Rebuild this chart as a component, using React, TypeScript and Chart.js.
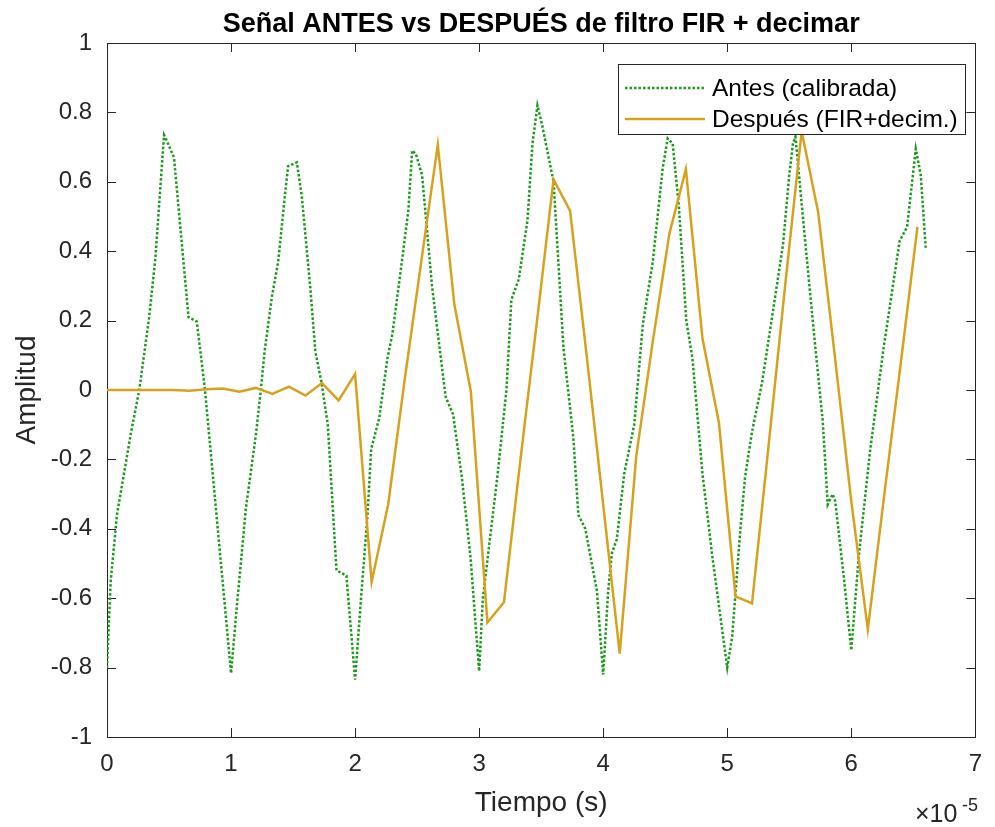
import React, { useEffect, useRef } from "react";
import { Chart, registerables } from "chart.js";

Chart.register(...registerables);

const TITLE = "Señal ANTES vs DESPUÉS de filtro FIR + decimar";
const X_LABEL = "Tiempo (s)";
const Y_LABEL = "Amplitud";
const X_EXP_BASE = "×10";
const X_EXP_POWER = "-5";
const LEGEND_LABELS = ["Antes (calibrada)", "Después (FIR+decim.)"];

const X_TICKS = [0, 1, 2, 3, 4, 5, 6, 7];
const Y_TICKS = [-1, -0.8, -0.6, -0.4, -0.2, 0, 0.2, 0.4, 0.6, 0.8, 1];

// Antes (calibrada): time in units of 1e-5 s
const antesT = [
  0.0, 0.03, 0.08, 0.19, 0.26, 0.34, 0.39, 0.46, 0.48, 0.54, 0.657, 0.724, 0.79, 1.0,
  1.05, 1.12, 1.2, 1.24, 1.27, 1.33, 1.38, 1.44, 1.46, 1.53, 1.57, 1.64, 1.68, 1.73, 1.78, 1.85, 1.93, 2.0,
  2.05, 2.1, 2.13, 2.195, 2.26, 2.3, 2.37, 2.43, 2.46, 2.49, 2.54, 2.62, 2.73, 2.79, 2.86, 2.93, 3.0,
  3.03, 3.07, 3.15, 3.22, 3.26, 3.32, 3.39, 3.43, 3.47, 3.51, 3.6, 3.68, 3.76, 3.8, 3.856, 3.95, 4.0,
  4.04, 4.07, 4.11, 4.17, 4.25, 4.32, 4.4, 4.48, 4.52, 4.56, 4.61, 4.67, 4.72, 4.8, 4.88, 5.0,
  5.04, 5.104, 5.144, 5.2, 5.28, 5.37, 5.45, 5.5, 5.53, 5.55, 5.62, 5.7, 5.77, 5.81, 5.85, 5.87, 5.94, 6.0,
  6.06, 6.15, 6.26, 6.39, 6.45, 6.52, 6.56, 6.6,
];
const antesV = [
  -0.8, -0.55, -0.36, -0.13, 0.0, 0.21, 0.38, 0.735, 0.72, 0.67, 0.21, 0.197, 0.0, -0.816,
  -0.61, -0.34, -0.13, 0.0, 0.11, 0.27, 0.37, 0.58, 0.645, 0.656, 0.56, 0.29, 0.11, 0.02, -0.1, -0.52, -0.535, -0.835,
  -0.59, -0.36, -0.17, -0.08, 0.09, 0.16, 0.35, 0.52, 0.69, 0.68, 0.62, 0.3, -0.02, -0.07, -0.25, -0.48, -0.81,
  -0.6, -0.48, -0.24, 0.0, 0.26, 0.32, 0.49, 0.71, 0.82, 0.76, 0.6, 0.12, -0.14, -0.36, -0.4, -0.58, -0.82,
  -0.58, -0.47, -0.43, -0.24, -0.1, 0.19, 0.37, 0.64, 0.725, 0.71, 0.53, 0.2, 0.09, -0.24, -0.48, -0.8,
  -0.71, -0.41, -0.25, -0.12, 0.02, 0.23, 0.42, 0.62, 0.71, 0.73, 0.46, 0.16, -0.09, -0.33, -0.3, -0.32, -0.54, -0.75,
  -0.48, -0.18, 0.12, 0.43, 0.47, 0.695, 0.62, 0.41,
];

// Después (FIR+decim.): uniform decimated sampling interval (units of 1e-5 s)
const DESPUES_DT = 2 / 15;
const despuesV = [
  0, 0, 0, 0, 0, -0.002, 0.002, 0.004, -0.005, 0.006, -0.011, 0.01, -0.016, 0.02, -0.03, 0.046,
  -0.553, -0.33, 0.03, 0.37, 0.707, 0.247, -0.005, -0.67, -0.612, -0.2, 0.2, 0.607, 0.516, 0.1, -0.33, -0.76,
  -0.19, 0.14, 0.45, 0.636, 0.15, -0.095, -0.595, -0.615, -0.16, 0.3, 0.745, 0.512, 0.1, -0.32, -0.69,
  -0.3, 0.08, 0.47,
];

const COLOR_ANTES = "#1a991a";
const COLOR_DESPUES = "#d6a21e";
const AXIS_COLOR = "#262626";
const FONT = "'Liberation Sans', Arial, Helvetica, sans-serif";

const decorPlugin = {
  id: "decor",
  beforeDatasetsDraw(chart: any) {
    const { ctx, chartArea } = chart;
    const { left, right, top, bottom } = chartArea;
    const xs = chart.scales.x;
    const ys = chart.scales.y;
    ctx.save();
    ctx.strokeStyle = AXIS_COLOR;
    ctx.lineWidth = 1;
    const TL = 9;
    ctx.beginPath();
    X_TICKS.forEach((v) => {
      const px = Math.round(xs.getPixelForValue(v)) + 0.5;
      ctx.moveTo(px, bottom);
      ctx.lineTo(px, bottom - TL);
      ctx.moveTo(px, top);
      ctx.lineTo(px, top + TL);
    });
    Y_TICKS.forEach((v) => {
      const py = Math.round(ys.getPixelForValue(v)) + 0.5;
      ctx.moveTo(left, py);
      ctx.lineTo(left + TL, py);
      ctx.moveTo(right, py);
      ctx.lineTo(right - TL, py);
    });
    ctx.stroke();
    ctx.strokeRect(Math.round(left) + 0.5, Math.round(top) + 0.5, Math.round(right - left), Math.round(bottom - top));
    ctx.restore();
  },
  afterDraw(chart: any) {
    const { ctx, chartArea } = chart;
    const { left, right } = chartArea;
    ctx.save();
    // Title
    ctx.fillStyle = "#000";
    ctx.font = `bold 27px ${FONT}`;
    ctx.textAlign = "center";
    ctx.textBaseline = "alphabetic";
    ctx.fillText(TITLE, (left + right) / 2, 32);
    // X label
    ctx.fillStyle = AXIS_COLOR;
    ctx.font = `28px ${FONT}`;
    ctx.fillText(X_LABEL, (left + right) / 2, 811);
    // Y label
    ctx.save();
    ctx.translate(35, 390);
    ctx.rotate(-Math.PI / 2);
    ctx.fillText(Y_LABEL, 0, 0);
    ctx.restore();
    // Exponent
    ctx.textAlign = "left";
    ctx.font = `25px ${FONT}`;
    ctx.fillText(X_EXP_BASE, 915, 822);
    ctx.font = `18px ${FONT}`;
    ctx.fillText(X_EXP_POWER, 962, 811);

    // Legend
    const bx = 618.5, by = 64.5, bw = 347, bh = 70;
    ctx.fillStyle = "#fff";
    ctx.fillRect(bx, by, bw, bh);
    ctx.strokeStyle = AXIS_COLOR;
    ctx.lineWidth = 1;
    ctx.strokeRect(bx, by, bw, bh);
    const rows = [88, 119];
    ctx.strokeStyle = COLOR_ANTES;
    ctx.lineWidth = 2.5;
    ctx.setLineDash([2.5, 2]);
    ctx.beginPath();
    ctx.moveTo(625, rows[0]);
    ctx.lineTo(705, rows[0]);
    ctx.stroke();
    ctx.setLineDash([]);
    ctx.strokeStyle = COLOR_DESPUES;
    ctx.lineWidth = 2.5;
    ctx.beginPath();
    ctx.moveTo(625, rows[1]);
    ctx.lineTo(705, rows[1]);
    ctx.stroke();
    ctx.fillStyle = "#000";
    ctx.font = `24.5px ${FONT}`;
    ctx.textBaseline = "middle";
    ctx.fillText(LEGEND_LABELS[0], 712, rows[0] + 1);
    ctx.fillText(LEGEND_LABELS[1], 712, rows[1] + 1);
    ctx.restore();
  },
};

export default function App() {
  const ref = useRef<HTMLCanvasElement | null>(null);
  useEffect(() => {
    if (!ref.current) return;
    const antesData = antesT.map((t, i) => ({ x: t, y: antesV[i] }));
    const despuesData = despuesV.map((v, i) => ({ x: i * DESPUES_DT, y: v }));
    const chart = new Chart(ref.current, {
      type: "line",
      data: {
        datasets: [
          {
            label: LEGEND_LABELS[0],
            data: antesData,
            borderColor: COLOR_ANTES,
            borderWidth: 2.5,
            borderDash: [2.5, 2],
            pointRadius: 0,
            tension: 0,
            fill: false,
            order: 1,
          },
          {
            label: LEGEND_LABELS[1],
            data: despuesData,
            borderColor: COLOR_DESPUES,
            borderWidth: 2.5,
            pointRadius: 0,
            tension: 0,
            fill: false,
            order: 0,
          },
        ],
      },
      options: {
        animation: false,
        responsive: false,
        devicePixelRatio: 1,
        layout: { padding: { top: 43, right: 15, left: 0, bottom: 0 } },
        plugins: {
          legend: { display: false },
          tooltip: { enabled: false },
          title: { display: false },
        },
        scales: {
          x: {
            type: "linear",
            min: 0,
            max: 7,
            grid: { display: false, drawTicks: false },
            border: { display: false },
            afterBuildTicks: (s: any) => {
              s.ticks = X_TICKS.map((v) => ({ value: v }));
            },
            afterFit: (s: any) => {
              s.height = 90;
            },
            ticks: {
              padding: 13,
              autoSkip: false,
              maxRotation: 0,
              color: AXIS_COLOR,
              font: { size: 24, family: FONT },
              callback: (v: any) => String(v),
            },
          },
          y: {
            type: "linear",
            min: -1,
            max: 1,
            grid: { display: false, drawTicks: false },
            border: { display: false },
            afterBuildTicks: (s: any) => {
              s.ticks = Y_TICKS.map((v) => ({ value: v }));
            },
            afterFit: (s: any) => {
              s.width = 107;
            },
            ticks: {
              padding: 15,
              autoSkip: false,
              color: AXIS_COLOR,
              font: { size: 24, family: FONT },
              callback: (v: any) => String(Math.round(Number(v) * 10) / 10),
            },
          },
        },
      },
      plugins: [decorPlugin],
    });
    return () => chart.destroy();
  }, []);
  return (
    <div style={{ position: "fixed", left: 0, top: 0, width: 995, height: 827, background: "#fff" }}>
      <canvas ref={ref} width={995} height={827} style={{ display: "block" }} />
    </div>
  );
}
